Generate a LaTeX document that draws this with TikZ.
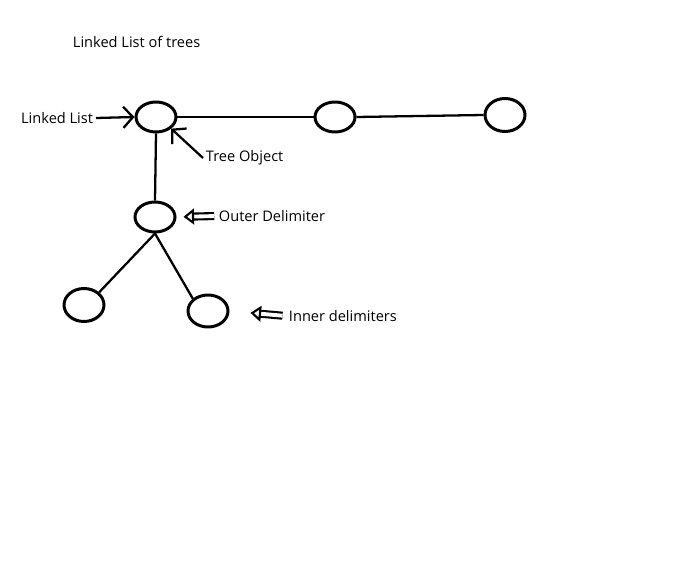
\documentclass[tikz,border=0pt]{standalone}
\usepackage{fontspec}
\setmainfont{Open Sans}
\usetikzlibrary{shapes.geometric,arrows.meta}

\tikzset{
  elem/.style={draw, ellipse, line width=1.7pt, minimum width=0.8cm, minimum height=0.6cm, inner sep=0pt},
  link/.style={line width=1.3pt},
  pointer/.style={line width=1.3pt, -{Straight Barb[length=5.5pt,width=12pt,line width=1.3pt]}},
  hollow/.style={double, double distance=2.2pt, line width=1.2pt, -{Triangle[open, length=6pt, width=9pt, line width=1.2pt]}},
  lbl/.style={font=\fontsize{8.3}{10}\selectfont, inner sep=1.5pt}
}

\begin{document}
\begin{tikzpicture}[x=0.02cm, y=-0.02cm]
            \useasboundingbox (0,0) rectangle (696,564);

            % Title
            \node[lbl, anchor=west] (title) at (70,42) {Linked List of trees};

            % List
            \node[elem] (t1) at (156,117) {};
            \node[elem] (t2) at (335,117) {};
            \node[elem, minimum height=0.66cm] (t3) at (505,115) {};

            % Tree
            \node[elem] (d) at (155,217) {};
            \node[elem, minimum height=0.66cm] (c1) at (84,305) {};
            \node[elem, minimum height=0.64cm] (c2) at (208,311) {};

            % Labels
            \node[lbl, anchor=east] (ll) at (96,118) {Linked List};
            \node[lbl, anchor=west] (tobj) at (203,158) {Tree Object};
            \node[lbl, anchor=west] (od) at (216,216) {Outer Delimiter};
            \node[lbl, anchor=west] (id) at (286,316) {Inner delimiters};

            % Links
            \draw[link] (t1.east) -- (t2.west);
            \draw[link] (t2.east) -- (t3.west);
            \draw[link] (t1.south) -- (d.north);
            \draw[link] (d.south) -- (c1.north east);
            \draw[link] (d.south) -- (c2.north west);

            % Pointers
            \draw[pointer] (ll.east) -- (t1.west);
            \draw[pointer] (tobj.west) -- (t1.south east);
            \draw[hollow, shorten <=1pt, shorten >=4pt] (od.west) -- (d.east);
            \draw[hollow, shorten <=2pt, shorten >=12pt] (id.west) -- (c2.east);

        \end{tikzpicture}
\end{document}
